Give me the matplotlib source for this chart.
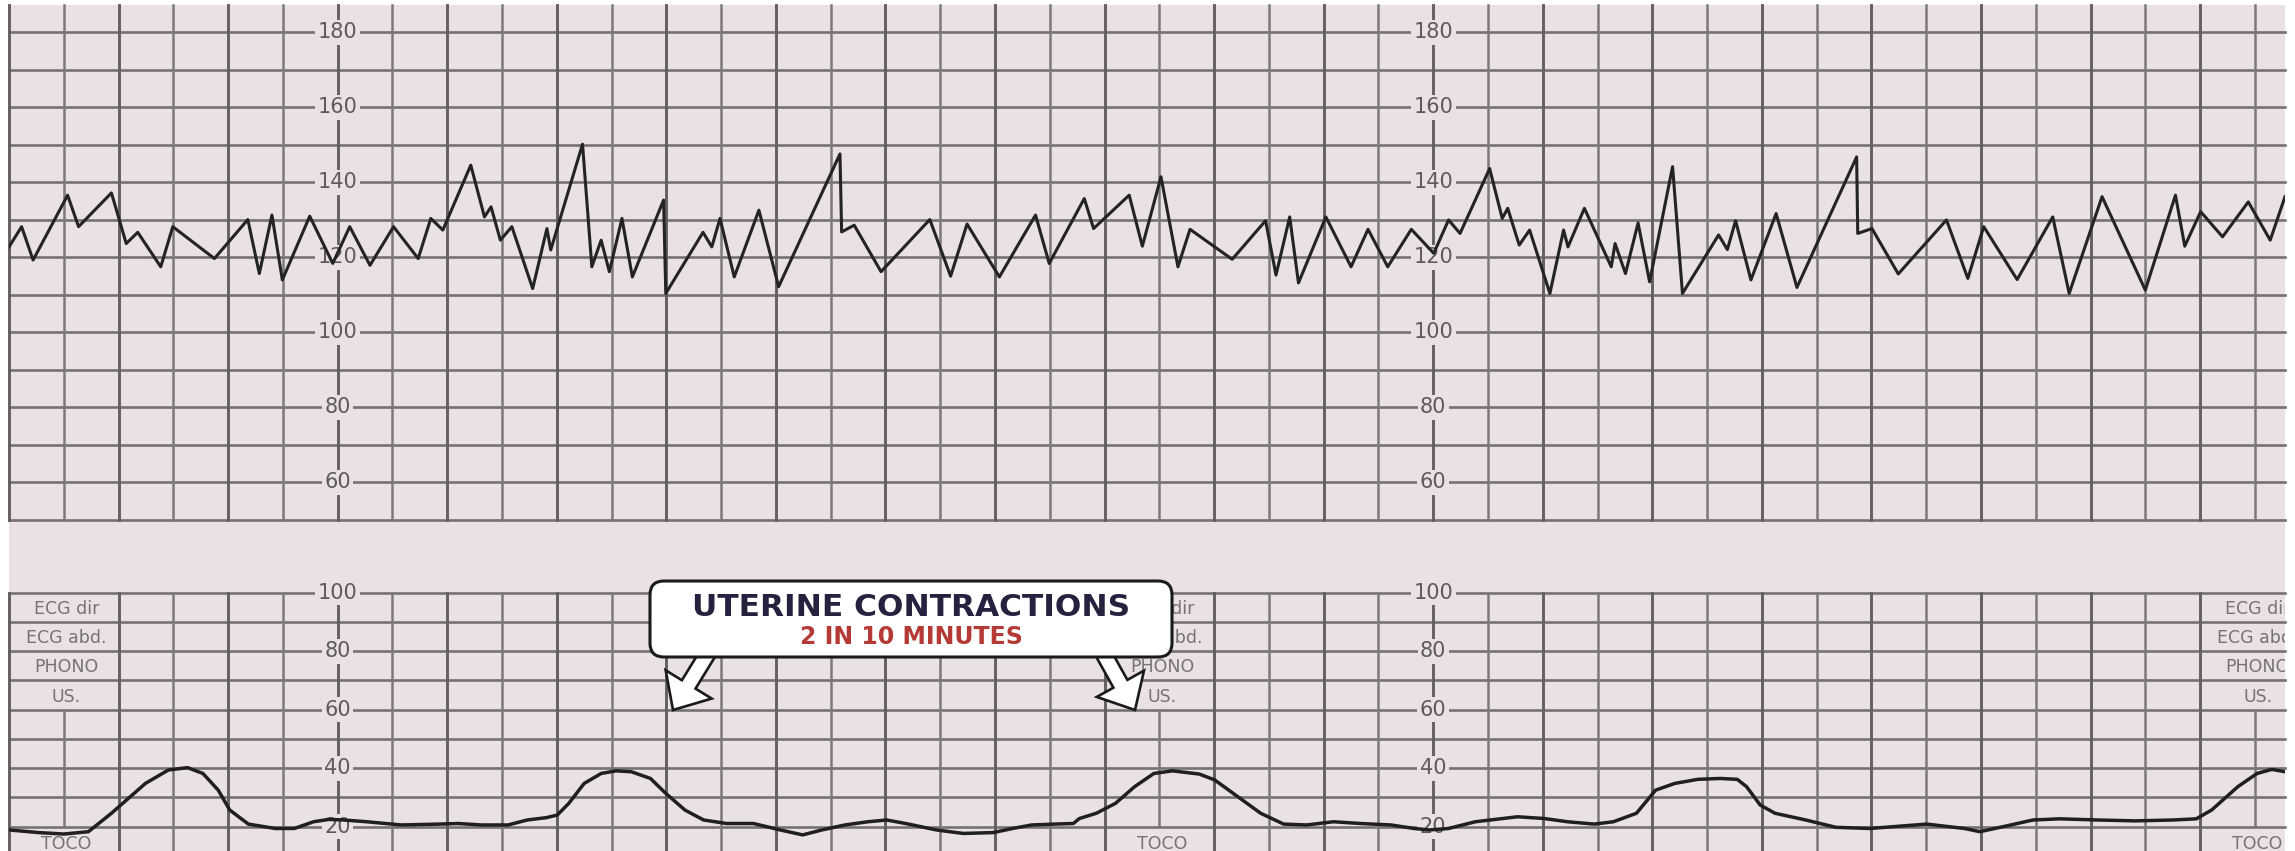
import matplotlib
matplotlib.use("Agg")
import matplotlib.pyplot as plt
from matplotlib.patches import Rectangle, FancyBboxPatch, FancyArrow
from matplotlib.transforms import Affine2D

# ---------------- data (x in chart-grid units) ----------------
fhr_x = [0.00, 0.23, 0.44, 1.07, 1.27, 1.87, 2.14, 2.35, 2.77, 2.99,
         3.75, 4.36, 4.57, 4.80, 4.99, 5.49, 5.91, 6.22, 6.59, 7.02,
         7.47, 7.70, 7.92, 8.43, 8.68, 8.80, 8.97, 9.18, 9.56, 9.82,
         9.89, 10.47, 10.64, 10.81, 10.96, 11.19, 11.38, 11.95, 11.99, 12.67,
         12.83, 12.98, 13.24, 13.69, 14.05, 15.17, 15.20, 15.43, 15.92, 16.81,
         17.19, 17.49, 18.08, 18.74, 18.99, 19.63, 19.80, 20.45, 20.69, 21.03,
         21.34, 21.56, 22.33, 22.94, 23.13, 23.38, 23.54, 24.04, 24.50, 24.81,
         25.17, 25.60, 26.01, 26.28, 26.49, 27.03, 27.26, 27.36, 27.57, 27.76,
         28.13, 28.38, 28.46, 28.76, 29.25, 29.32, 29.51, 29.74, 29.95, 30.37,
         30.55, 31.21, 31.37, 31.52, 31.80, 32.26, 32.64, 33.73, 33.75, 34.01,
         34.49, 35.37, 35.76, 36.05, 36.66, 37.31, 37.61, 38.21, 39.00, 39.55,
         39.72, 40.01, 40.41, 40.88, 41.28, 41.55]
fhr_bpm = [122.8, 128.2, 119.3, 136.6, 128.2, 137.2, 123.7, 126.7, 117.5, 128.2,
           119.7, 130.1, 115.7, 131.3, 114.0, 131.0, 118.4, 128.2, 117.9, 128.2,
           119.7, 130.4, 127.3, 144.6, 130.8, 133.5, 124.6, 128.2, 111.7, 127.7,
           122.0, 150.2, 117.5, 124.6, 116.2, 130.4, 114.8, 135.3, 110.4, 126.7,
           122.8, 130.4, 114.8, 132.6, 112.2, 147.6, 126.8, 128.6, 116.2, 130.1,
           115.0, 128.9, 114.8, 131.3, 118.4, 135.7, 127.7, 136.6, 123.0, 141.5,
           117.5, 127.5, 119.5, 129.8, 115.3, 130.8, 113.2, 130.8, 117.5, 127.5,
           117.5, 127.5, 121.1, 130.0, 126.4, 143.7, 130.4, 133.1, 123.3, 127.3,
           110.4, 127.3, 122.8, 133.1, 117.5, 123.7, 115.7, 129.2, 113.5, 144.2,
           110.4, 126.0, 122.1, 129.8, 114.0, 131.7, 112.0, 146.8, 126.4, 127.7,
           115.6, 130.0, 114.4, 128.2, 114.1, 130.8, 110.4, 136.2, 111.3, 136.6,
           123.0, 132.2, 125.5, 134.8, 124.6, 136.2]

toco_x = [0.00, 0.54, 1.00, 1.45, 1.87, 2.49, 2.91, 3.26, 3.54, 3.82,
          4.03, 4.37, 4.86, 5.21, 5.56, 5.84, 6.11, 6.53, 7.16, 7.86,
          8.20, 8.62, 9.11, 9.46, 9.81, 10.01, 10.22, 10.50, 10.81, 11.08,
          11.36, 11.71, 11.99, 12.34, 12.68, 13.10, 13.59, 14.08, 14.49, 14.84,
          15.26, 15.68, 16.02, 16.37, 16.93, 17.42, 17.97, 18.32, 18.67, 19.09,
          19.43, 19.54, 19.85, 20.20, 20.55, 20.90, 21.24, 21.73, 22.01, 22.43,
          22.85, 23.27, 23.69, 24.18, 24.67, 25.23, 25.65, 25.93, 26.28, 26.77,
          27.54, 28.03, 28.45, 28.94, 29.29, 29.71, 30.06, 30.41, 30.83, 31.24,
          31.55, 31.72, 31.97, 32.24, 32.80, 33.35, 33.97, 35.01, 35.70, 35.98,
          36.40, 36.95, 37.44, 38.13, 38.82, 39.51, 39.93, 40.21, 40.69, 41.04,
          41.31, 41.55]
toco_val = [18.9, 18.0, 17.5, 18.3, 24.6, 34.8, 39.4, 40.2, 38.2, 32.5,
            25.7, 20.9, 19.4, 19.4, 21.7, 22.5, 22.3, 21.7, 20.6, 20.9,
            21.1, 20.6, 20.6, 22.3, 23.1, 24.0, 28.0, 34.8, 38.2, 39.1,
            38.8, 36.5, 31.4, 25.7, 22.3, 21.1, 21.1, 18.9, 17.2, 18.9,
            20.6, 21.7, 22.3, 21.1, 18.9, 17.7, 18.0, 19.4, 20.6, 20.9,
            21.1, 22.8, 24.6, 28.0, 33.7, 38.2, 39.1, 38.0, 36.0, 30.3,
            24.6, 20.9, 20.6, 21.7, 21.1, 20.6, 19.4, 18.9, 19.4, 21.7,
            23.4, 22.8, 21.7, 20.9, 21.7, 24.6, 32.5, 34.8, 36.2, 36.5,
            36.2, 33.7, 27.4, 24.6, 22.3, 19.8, 19.4, 20.9, 19.4, 18.3,
            20.0, 22.3, 22.7, 22.3, 22.0, 22.3, 22.7, 25.7, 33.7, 38.2,
            39.6, 38.8]

fhr_ticks = [60, 80, 100, 120, 140, 160, 180]
toco_ticks = [20, 40, 60, 80, 100]
label_cols = [6, 26]
channel_labels = ["ECG dir", "ECG abd.", "PHONO", "US."]
channel_rows = [94.5, 84.5, 74.5, 64.5]
box_cols = [1, 21, 41]
toco_label = "TOCO"
callout_title = "UTERINE CONTRACTIONS"
callout_sub = "2 IN 10 MINUTES"

# ---------------- figure ----------------
W, H = 2295, 851
fig = plt.figure(figsize=(W / 100, H / 100), dpi=100, facecolor="white")
px = Affine2D().scale(1.0 / W, 1.0 / H) + fig.transFigure

PINK = "#E9E1E4"
H_COL = "#767174"
V_DARK = "#646062"
V_LIGHT = "#7d787b"
LBL = "#5e5a5c"

XL, XR = 9, 2285
fig.add_artist(Rectangle((XL, 0), XR - XL, H - 5, transform=px,
                         facecolor=PINK, edgecolor="none", zorder=-10))

ax_top = fig.add_axes([XL / W, 1 - 520 / H, (XR - XL) / W, (520 - 5) / H])
ax_bot = fig.add_axes([XL / W, 0, (XR - XL) / W, (H - 592.7) / H])
XMAX = 41.55
for ax in (ax_top, ax_bot):
    ax.set_xlim(0, XMAX)
    ax.set_axis_off()
ax_top.set_ylim(50, 187.3)
ax_bot.set_ylim(11.7, 100)

# grid - top panel
for v in range(50, 181, 10):
    ax_top.axhline(v, color=H_COL, lw=1.9, zorder=1, clip_on=False)
for k in range(0, 42):
    even = (k % 2 == 0)
    ax_top.axvline(k, color=V_DARK if even else V_LIGHT,
                   lw=2.1 if even else 1.8, zorder=1, clip_on=False)

# grid - bottom panel
for v in range(20, 101, 10):
    ax_bot.axhline(v, color=H_COL, lw=1.9, zorder=1, clip_on=False)
for k in range(0, 42):
    even = (k % 2 == 0)
    c = V_DARK if even else V_LIGHT
    w = 2.1 if even else 1.8
    if k in box_cols:
        ax_bot.vlines(k, 20, 60, color=c, lw=w, zorder=1)
    else:
        ax_bot.axvline(k, color=c, lw=w, zorder=1, clip_on=False)

# scale labels
bb = dict(boxstyle="square,pad=0.12", fc=PINK, ec="none")
for c in label_cols:
    for t in fhr_ticks:
        ax_top.text(c, t, str(t), ha="center", va="center", fontsize=15,
                    color=LBL, bbox=bb, zorder=3)
    for t in toco_ticks:
        ax_bot.text(c, t, str(t), ha="center", va="center", fontsize=15,
                    color=LBL, bbox=bb, zorder=3)

# channel labels
for bc in box_cols:
    for lab, r in zip(channel_labels, channel_rows):
        ax_bot.text(bc + 0.05, r, lab, ha="center", va="center", fontsize=12.5,
                    color="#767274", clip_on=True, zorder=3)
    ax_bot.text(bc + 0.05, 14.2, toco_label, ha="center", va="center",
                fontsize=12.5, color="#767274", clip_on=True, zorder=3)

# traces
ax_top.plot(fhr_x, fhr_bpm, color="#232323", lw=2.2, zorder=4,
            solid_joinstyle="round")
ax_bot.plot(toco_x, toco_val, color="#1f1f1f", lw=2.5, zorder=4,
            solid_joinstyle="round", solid_capstyle="round")

# callout arrows
def block_arrow(x0, y0, x1, y1):
    a = FancyArrow(x0, H - y0, x1 - x0, -(y1 - y0), width=16, head_width=54,
                   head_length=30, length_includes_head=True, transform=px,
                   facecolor="white", edgecolor="#1a1a1a", lw=1.9, zorder=19)
    fig.add_artist(a)

block_arrow(716, 640, 673, 710)
block_arrow(1096, 640, 1135, 710)

box = FancyBboxPatch((650, H - 657), 522, 76,
                     boxstyle="round,pad=0,rounding_size=14", transform=px,
                     facecolor="white", edgecolor="#1a1a1a", lw=2.2, zorder=20)
fig.add_artist(box)

fig.text(911 / W, 1 - 608 / H, callout_title, ha="center", va="center",
         fontsize=22.5, fontweight="heavy", color="#24223f", zorder=21)
fig.text(911 / W, 1 - 637 / H, callout_sub, ha="center", va="center",
         fontsize=17, fontweight="heavy", color="#b53a35", zorder=21)

fig.savefig("out.png", dpi=100, facecolor="white")
